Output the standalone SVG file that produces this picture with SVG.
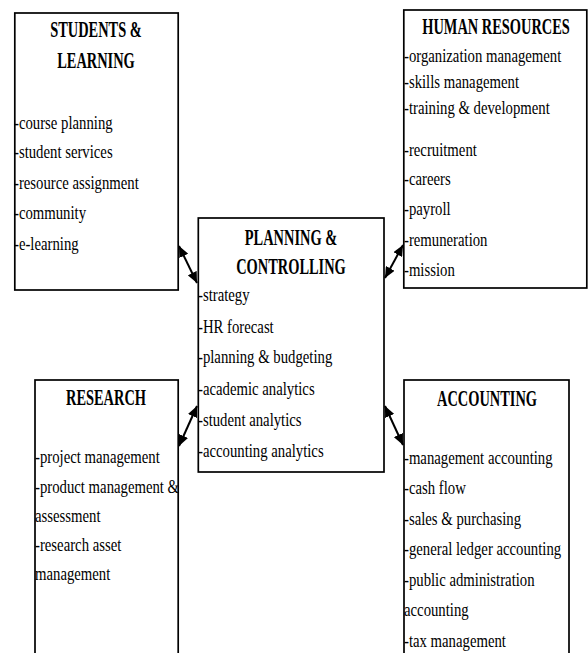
<svg xmlns="http://www.w3.org/2000/svg" width="588" height="653" viewBox="0 0 588 653">
  <style>
    .box { fill: #ffffff; stroke: #000000; stroke-width: 1.7; }
    .title { font-family: "Liberation Serif", "Times New Roman", serif; font-size: 24px; font-weight: bold; fill: #000; text-anchor: middle; }
    .item { font-family: "Liberation Serif", "Times New Roman", serif; font-size: 18px; fill: #000; }
    .link { stroke: #000; stroke-width: 2; fill: none; marker-start: url(#head); marker-end: url(#head); }
  </style>
  <defs>
    <marker id="head" viewBox="0 0 11 10" refX="11" refY="5" markerWidth="11" markerHeight="10" markerUnits="userSpaceOnUse" orient="auto-start-reverse">
      <path d="M0,0 L11,5 L0,10 z" fill="#000"/>
    </marker>
  </defs>
  <rect width="588" height="653" fill="#ffffff"/>

  <!-- Students & Learning -->
  <g id="students-learning">
    <rect class="box" x="14.8" y="13" width="163.4" height="277"/>
    <g transform="translate(96,0) scale(0.6,1)">
      <text class="title" x="0" y="37">STUDENTS &amp;</text>
      <text class="title" x="0" y="68">LEARNING</text>
    </g>
    <g transform="translate(14,0) scale(0.82,1)">
      <text class="item" x="0" y="129">-course planning</text>
      <text class="item" x="0" y="158">-student services</text>
      <text class="item" x="0" y="189">-resource assignment</text>
      <text class="item" x="0" y="219">-community</text>
      <text class="item" x="0" y="250">-e-learning</text>
    </g>
  </g>

  <!-- Human Resources -->
  <g id="human-resources">
    <rect class="box" x="403.8" y="10" width="183" height="278"/>
    <g transform="translate(496,0) scale(0.6,1)">
      <text class="title" x="0" y="34">HUMAN RESOURCES</text>
    </g>
    <g transform="translate(404,0) scale(0.82,1)">
      <text class="item" x="0" y="62">-organization management</text>
      <text class="item" x="0" y="88">-skills management</text>
      <text class="item" x="0" y="114">-training &amp; development</text>
      <text class="item" x="0" y="156">-recruitment</text>
      <text class="item" x="0" y="185">-careers</text>
      <text class="item" x="0" y="215">-payroll</text>
      <text class="item" x="0" y="246">-remuneration</text>
      <text class="item" x="0" y="276">-mission</text>
    </g>
  </g>

  <!-- Planning & Controlling -->
  <g id="planning-controlling">
    <rect class="box" x="198.3" y="218" width="185.7" height="254"/>
    <g transform="translate(291,0) scale(0.6,1)">
      <text class="title" x="0" y="245">PLANNING &amp;</text>
      <text class="title" x="0" y="274">CONTROLLING</text>
    </g>
    <g transform="translate(198,0) scale(0.82,1)">
      <text class="item" x="0" y="301">-strategy</text>
      <text class="item" x="0" y="333">-HR forecast</text>
      <text class="item" x="0" y="363">-planning &amp; budgeting</text>
      <text class="item" x="0" y="395">-academic analytics</text>
      <text class="item" x="0" y="426">-student analytics</text>
      <text class="item" x="0" y="457">-accounting analytics</text>
    </g>
  </g>

  <!-- Research -->
  <g id="research">
    <rect class="box" x="35" y="380" width="143.2" height="290"/>
    <g transform="translate(106,0) scale(0.6,1)">
      <text class="title" x="0" y="405">RESEARCH</text>
    </g>
    <g transform="translate(35,0) scale(0.82,1)">
      <text class="item" x="0" y="463">-project management</text>
      <text class="item" x="0" y="493">-product management &amp;</text>
      <text class="item" x="0" y="522">assessment</text>
      <text class="item" x="0" y="551">-research asset</text>
      <text class="item" x="0" y="580">management</text>
    </g>
  </g>

  <!-- Accounting -->
  <g id="accounting">
    <rect class="box" x="404" y="380" width="165" height="290"/>
    <g transform="translate(487,0) scale(0.6,1)">
      <text class="title" x="0" y="406">ACCOUNTING</text>
    </g>
    <g transform="translate(404,0) scale(0.82,1)">
      <text class="item" x="0" y="464">-management accounting</text>
      <text class="item" x="0" y="494">-cash flow</text>
      <text class="item" x="0" y="525">-sales &amp; purchasing</text>
      <text class="item" x="0" y="555">-general ledger accounting</text>
      <text class="item" x="0" y="586">-public administration</text>
      <text class="item" x="0" y="616">accounting</text>
      <text class="item" x="0" y="647">-tax management</text>
    </g>
  </g>

  <!-- Connectors: double-headed arrows to the central box -->
  <g id="connectors">
    <line class="link" x1="179" y1="246" x2="197" y2="283"/>
    <line class="link" x1="179" y1="446" x2="197" y2="406"/>
    <line class="link" x1="403" y1="245" x2="385" y2="278"/>
    <line class="link" x1="385" y1="406" x2="403" y2="445"/>
  </g>
</svg>
